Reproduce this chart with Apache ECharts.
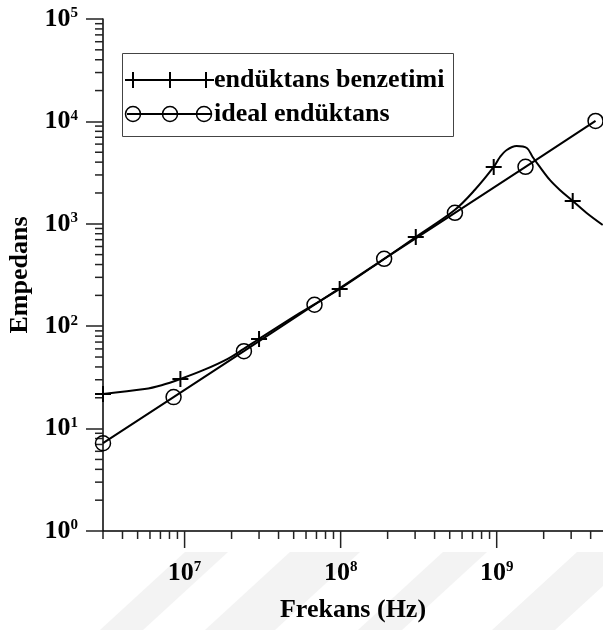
<!DOCTYPE html>
<html lang="tr">

<head>
    <meta charset="utf-8">
    <title>Empedans - Frekans</title>
    <style>
        * {
            margin: 0;
            padding: 0;
        }

        #chart-container {
            width: 603px;
            height: 630px;
            overflow: hidden;
        }
    </style>
</head>

<body>
    <div id="chart-container"></div>
    <script src="https://cdn.jsdelivr.net/npm/echarts@6/dist/echarts.min.js"></script>
    <script>
        // endüktans benzetimi: frekans (Hz) / empedans
        var simFreq = [3e6, 5.54e6, 7.12e6, 9.4e6, 1.34e7, 1.89e7, 2.39e7, 3e7, 5.46e7, 9.86e7,
            1.78e8, 3.03e8, 5.38e8, 7.23e8, 9.57e8, 1.05e9, 1.16e9, 1.34e9, 1.56e9, 1.7e9,
            1.89e9, 2.19e9, 2.54e9, 3.07e9, 3.77e9, 4.78e9];
        var simValue = [21.8, 24.3, 26.5, 30.5, 37.6, 48, 60, 75, 134, 231,
            424, 743, 1364, 2138, 3590, 4490, 5260, 5750, 5500, 4490,
            3590, 2680, 2138, 1670, 1275, 973];
        // which of the points above carry a "+" marker
        var simMarkerIdx = [0, 3, 7, 9, 11, 14, 23];

        // ideal endüktans
        var idealFreq = [3e6, 8.5e6, 2.4e7, 6.8e7, 1.9e8, 5.4e8, 1.53e9, 4.3e9];
        var idealValue = [7.2, 20.3, 57, 162, 455, 1280, 3600, 10100];

        var seriesNames = ['endüktans benzetimi', 'ideal endüktans'];

        var xMin = 3e6, xMax = 4.8e9;
        var yMin = 1, yMax = 1e5;

        var serif = '"Liberation Serif", "Times New Roman", serif';
        var plusPath = 'path://M8,0L8,16M0,8L16,8';

        // log axis ticks: majors at 10^k, minors at 2..9 x 10^k
        var xTicks = [];
        [1e6, 1e7, 1e8, 1e9].forEach(function (d) {
            for (var k = 1; k <= 9; k++) {
                var v = k * d;
                if (v >= xMin && v <= xMax) xTicks.push([v, yMin, k === 1 ? 17 : 8]);
            }
        });
        var yMinorTicks = [];
        [1, 10, 100, 1000, 10000].forEach(function (d) {
            for (var k = 2; k <= 9; k++) yMinorTicks.push([xMin, k * d]);
        });

        var simData = simFreq.map(function (f, i) {
            var item = { value: [f, simValue[i]] };
            if (simMarkerIdx.indexOf(i) < 0) item.symbol = 'none';
            return item;
        });
        var idealData = idealFreq.map(function (f, i) {
            return [f, idealValue[i]];
        });

        function powLabel(v) {
            return '{b|10}{e|' + Math.round(Math.log10(v)) + '}';
        }
        var labelRich = {
            b: { fontSize: 26, fontWeight: 'bold', fontFamily: serif, color: '#000' },
            e: { fontSize: 15, fontWeight: 'bold', fontFamily: serif, color: '#000', verticalAlign: 'top' }
        };

        function plusMark(cx, cy) {
            return [
                { type: 'line', shape: { x1: cx - 8, y1: cy, x2: cx + 8, y2: cy }, style: { stroke: '#000', lineWidth: 2 } },
                { type: 'line', shape: { x1: cx, y1: cy - 8, x2: cx, y2: cy + 8 }, style: { stroke: '#000', lineWidth: 2 } }
            ];
        }
        function ringMark(cx, cy) {
            return { type: 'circle', shape: { cx: cx, cy: cy, r: 7.5 }, style: { fill: 'none', stroke: '#000', lineWidth: 1.5 } };
        }

        // faint diagonal watermark bands at the bottom
        var bands = [[185, 228], [290, 360], [443, 487], [577, 640]].map(function (b) {
            return {
                type: 'polygon', z: -10, silent: true,
                shape: { points: [[b[0], 552], [b[1], 552], [b[1] - 85, 630], [b[0] - 85, 630]] },
                style: { fill: '#f3f3f3' }
            };
        });

        var legendEls = [
            { type: 'rect', shape: { x: 122.5, y: 53.5, width: 331, height: 83 }, style: { fill: '#fff', stroke: '#444', lineWidth: 1 } },
            { type: 'line', shape: { x1: 127, y1: 80, x2: 211, y2: 80 }, style: { stroke: '#000', lineWidth: 2 } },
            { type: 'line', shape: { x1: 127, y1: 114, x2: 211, y2: 114 }, style: { stroke: '#000', lineWidth: 2 } },
            ringMark(133, 114), ringMark(170, 114), ringMark(204, 114),
            { type: 'text', style: { x: 214, y: 80, text: seriesNames[0], font: 'bold 26px ' + serif, fill: '#000', verticalAlign: 'middle' } },
            { type: 'text', style: { x: 214, y: 114, text: seriesNames[1], font: 'bold 26px ' + serif, fill: '#000', verticalAlign: 'middle' } }
        ].concat(plusMark(133, 80), plusMark(170, 80), plusMark(206, 80));

        var dom = document.getElementById('chart-container');
        var myChart = echarts.init(dom, null, { renderer: 'canvas' });

        var option = {
            animation: false,
            backgroundColor: '#fff',
            grid: { left: 103, right: 0, top: 19, bottom: 99, outerBoundsMode: 'none' },
            xAxis: {
                type: 'log',
                logBase: 10,
                min: xMin,
                max: xMax,
                name: 'Frekans (Hz)',
                nameLocation: 'middle',
                nameGap: 66,
                nameTextStyle: { fontSize: 26, fontWeight: 'bold', fontFamily: serif, color: '#000' },
                axisLine: { lineStyle: { color: '#000', width: 1.5 } },
                axisTick: { show: false },
                splitLine: { show: false },
                axisLabel: {
                    margin: 29,
                    showMinLabel: false,
                    showMaxLabel: false,
                    formatter: powLabel,
                    rich: labelRich
                }
            },
            yAxis: {
                type: 'log',
                logBase: 10,
                min: yMin,
                max: yMax,
                name: 'Empedans',
                nameLocation: 'middle',
                nameGap: 66,
                nameTextStyle: { fontSize: 26, fontWeight: 'bold', fontFamily: serif, color: '#000' },
                axisLine: { lineStyle: { color: '#000', width: 1.5 } },
                axisTick: { show: true, length: 17, lineStyle: { color: '#222', width: 1.5 } },
                splitLine: { show: false },
                axisLabel: {
                    margin: 25,
                    formatter: powLabel,
                    rich: labelRich
                }
            },
            graphic: bands.concat(legendEls),
            series: [
                {
                    name: seriesNames[0],
                    type: 'line',
                    data: simData,
                    smooth: 0.35,
                    clip: false,
                    symbol: plusPath,
                    symbolSize: 16,
                    lineStyle: { color: '#000', width: 2 },
                    itemStyle: { color: '#000', borderColor: '#000', borderWidth: 2 },
                    emphasis: { disabled: true },
                    z: 3
                },
                {
                    name: seriesNames[1],
                    type: 'line',
                    data: idealData,
                    clip: false,
                    symbol: 'circle',
                    symbolSize: 15,
                    lineStyle: { color: '#000', width: 2 },
                    itemStyle: { color: 'rgba(0,0,0,0)', borderColor: '#000', borderWidth: 1.5 },
                    emphasis: { disabled: true },
                    z: 3
                },
                {
                    type: 'custom',
                    silent: true,
                    clip: false,
                    data: xTicks,
                    renderItem: function (params, api) {
                        var p = api.coord([api.value(0), api.value(1)]);
                        return {
                            type: 'line',
                            shape: { x1: p[0], y1: p[1], x2: p[0], y2: p[1] + api.value(2) },
                            style: { stroke: '#222', lineWidth: 1.5 }
                        };
                    }
                },
                {
                    type: 'custom',
                    silent: true,
                    clip: false,
                    data: yMinorTicks,
                    renderItem: function (params, api) {
                        var p = api.coord([api.value(0), api.value(1)]);
                        return {
                            type: 'line',
                            shape: { x1: p[0] - 8, y1: p[1], x2: p[0], y2: p[1] },
                            style: { stroke: '#222', lineWidth: 1.5 }
                        };
                    }
                }
            ]
        };

        myChart.setOption(option);
        window.addEventListener('resize', myChart.resize);
    </script>
</body>

</html>
